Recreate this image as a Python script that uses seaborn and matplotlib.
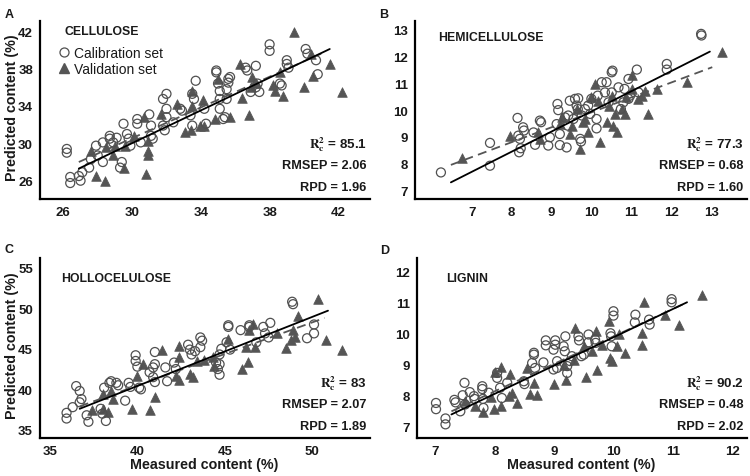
import numpy as np
import pandas as pd
import matplotlib
matplotlib.use("Agg")
import matplotlib.pyplot as plt
from matplotlib.lines import Line2D
import seaborn as sns

# ---- data ----
# A: cellulose
cal_a_x = [26.2, 26.2, 26.4, 26.4, 27.1, 27.0, 26.9, 27.5, 27.6, 27.9, 28.0, 28.3, 28.3, 28.7, 28.7, 28.9,
           29.1, 29.3, 29.4, 29.5, 29.7, 29.8, 29.9, 30.3, 30.3, 30.5, 31.0, 31.1, 31.2, 31.1, 31.8, 31.8,
           31.9, 32.0, 32.0, 32.0, 32.4, 32.8, 32.9, 33.5, 33.6, 33.7, 33.5, 33.4, 34.3, 34.2, 34.9, 34.9,
           35.1, 35.1, 35.0, 35.1, 35.3, 35.4, 35.5, 35.6, 35.7, 35.6, 35.5, 36.6, 36.7, 36.9, 37.2, 37.4,
           37.3, 37.2, 38.0, 38.0, 38.6, 38.7, 39.0, 39.0, 39.1, 40.1, 40.2, 40.7, 40.8]
cal_a_y = [29.4, 29.0, 26.4, 25.75, 26.9, 26.0, 26.5, 27.4, 28.3, 29.75, 28.7, 28.0, 30.1, 30.8, 30.5, 30.1,
           30.6, 27.4, 28.0, 32.1, 31.0, 30.5, 29.75, 32.6, 32.1, 30.1, 33.1, 31.9, 30.5, 30.8, 34.75, 31.9,
           31.4, 35.3, 33.7, 32.8, 32.25, 33.7, 33.5, 35.3, 34.75, 36.7, 31.9, 33.0, 32.1, 33.7, 37.8, 37.6,
           35.6, 34.75, 36.4, 33.7, 32.6, 32.8, 34.75, 36.9, 37.1, 36.5, 35.8, 38.1, 37.8, 35.5, 38.3, 35.5,
           36.4, 36.0, 40.6, 39.9, 36.4, 36.2, 38.9, 38.5, 38.1, 40.1, 39.6, 38.9, 37.4]
val_a_x = [27.6, 27.9, 28.4, 28.5, 28.9, 29.0, 29.5, 29.6, 30.1, 30.7, 30.8, 30.9, 30.9, 30.9, 31.7, 32.6,
           33.1, 33.4, 33.5, 33.5, 33.95, 34.1, 34.2, 34.8, 35.0, 35.7, 36.3, 36.4, 36.8, 36.9, 37.0, 37.2,
           38.2, 38.3, 38.6, 38.8, 39.4, 40.0, 40.4, 40.5, 41.5, 42.2]
val_a_y = [29.2, 26.5, 26.0, 29.6, 28.7, 29.75, 27.4, 29.75, 30.8, 32.8, 26.7, 28.7, 29.2, 30.3, 33.1, 34.2,
           31.2, 31.4, 34.0, 35.6, 31.9, 34.6, 31.9, 32.6, 36.9, 32.8, 38.5, 34.9, 33.0, 36.0, 37.1, 36.5,
           36.2, 35.6, 37.6, 35.1, 41.9, 36.0, 39.6, 37.25, 38.5, 35.5]
fit_a_x = [26.9, 41.5]
fit_a_y = [27.3, 40.1]
dash_a_x = [26.9, 41.0]
dash_a_y = [28.0, 39.6]

# B: hemicellulose
cal_b_x = [6.23, 7.46, 7.46, 8.15, 8.17, 8.21, 8.19, 8.23, 8.29, 8.31, 8.55, 8.59, 8.71, 8.74, 8.92, 8.96,
           9.13, 9.15, 9.17, 9.21, 9.21, 9.34, 9.38, 9.41, 9.42, 9.46, 9.55, 9.59, 9.63, 9.67, 9.66, 9.72,
           9.74, 9.76, 9.84, 9.92, 9.97, 10.0, 10.13, 10.13, 10.16, 10.26, 10.38, 10.34, 10.43, 10.51, 10.53,
           10.51, 10.68, 10.74, 10.8, 10.83, 10.93, 10.97, 10.93, 11.14, 11.18, 11.89, 11.89, 12.75, 12.76]
cal_b_y = [7.68, 8.78, 7.93, 9.71, 9.05, 8.93, 8.43, 8.58, 9.36, 9.24, 9.17, 8.71, 9.61, 9.55, 8.68, 8.99,
           9.48, 10.23, 10.0, 9.11, 8.70, 9.73, 8.61, 9.42, 9.80, 10.35, 9.67, 10.42, 10.17, 10.44, 10.04, 8.93,
           8.83, 9.80, 10.04, 10.17, 9.86, 10.42, 9.67, 9.32, 10.54, 11.04, 11.04, 10.66, 10.29, 11.41, 11.47,
           10.66, 10.85, 10.04, 10.29, 10.79, 11.16, 10.54, 10.42, 11.51, 10.66, 11.72, 11.51, 12.84, 12.78]
val_b_x = [6.77, 7.96, 8.67, 8.71, 9.21, 9.26, 9.46, 9.51, 9.63, 9.72, 9.80, 9.84, 9.92, 10.0, 10.09, 10.22,
           10.17, 10.38, 10.43, 10.51, 10.55, 10.63, 10.59, 10.76, 10.84, 10.88, 11.01, 11.01, 11.18, 11.26,
           11.34, 11.43, 11.64, 12.39, 13.27]
val_b_y = [8.2, 9.05, 9.17, 8.93, 9.48, 9.73, 9.11, 9.42, 10.04, 8.55, 9.55, 9.67, 9.17, 10.48, 10.98, 8.80,
           10.35, 9.55, 10.17, 10.54, 9.42, 9.17, 9.86, 10.04, 9.86, 10.48, 10.79, 11.29, 10.42, 10.54,
           10.73, 9.86, 10.79, 11.04, 12.16]
fit_b_x = [6.48, 12.97]
fit_b_y = [7.31, 12.18]
dash_b_x = [6.48, 13.03]
dash_b_y = [7.96, 11.6]

# C: holocellulose
cal_c_x = [35.95, 35.95, 36.3, 36.5, 36.7, 36.8, 36.7, 37.1, 37.2, 37.9, 38.0, 38.2, 38.1, 38.4, 38.5, 38.8,
           38.9, 39.3, 39.5, 39.6, 39.9, 39.9, 40.0, 40.1, 40.2, 40.7, 40.9, 41.0, 41.0, 41.0, 40.9, 41.6,
           41.7, 42.1, 42.2, 42.9, 43.0, 43.1, 43.3, 43.6, 43.7, 43.6, 44.5, 44.6, 44.7, 44.7, 44.7, 44.8,
           45.1, 45.2, 45.2, 45.3, 45.9, 46.4, 46.4, 46.8, 47.2, 47.3, 47.5, 47.6, 48.9, 48.85, 49.7, 50.1, 50.1]
cal_c_y = [36.4, 37.1, 37.8, 40.4, 39.8, 38.8, 38.4, 36.8, 36.0, 37.6, 37.0, 36.1, 40.2, 40.8, 41.0, 40.8,
           40.5, 38.6, 40.8, 40.3, 44.2, 43.5, 42.8, 40.2, 40.0, 42.1, 42.7, 44.6, 43.1, 40.9, 41.5, 42.7,
           41.0, 43.3, 42.5, 45.5, 44.9, 44.3, 44.7, 46.4, 46.0, 45.2, 43.3, 42.5, 41.8, 43.1, 44.3, 45.0,
           45.8, 47.9, 47.7, 44.9, 47.3, 47.7, 47.9, 45.8, 47.7, 46.9, 46.4, 48.2, 50.5, 50.8, 46.3, 46.9, 48.0]
val_c_x = [37.4, 38.05, 38.05, 38.3, 38.6, 38.5, 39.7, 40.0, 40.3, 40.7, 41.0, 41.4, 42.2, 42.4, 42.4, 42.4,
           43.0, 43.2, 43.8, 44.35, 43.4, 44.4, 45.2, 46.0, 46.3, 46.2, 46.7, 46.4, 46.6, 48.0, 48.5, 48.8,
           48.9, 49.0, 49.2, 50.3, 50.8, 51.7]
val_c_y = [37.4, 37.6, 39.4, 37.2, 38.8, 39.8, 37.6, 41.7, 43.1, 37.4, 39.1, 44.8, 41.7, 44.0, 41.1, 45.4,
           41.9, 41.5, 43.6, 44.0, 43.5, 42.9, 46.2, 42.5, 43.4, 45.2, 45.2, 47.3, 48.1, 47.0, 45.1, 46.1,
           47.3, 46.5, 49.1, 51.2, 46.1, 44.8]
fit_c_x = [36.7, 50.9]
fit_c_y = [37.6, 49.7]
dash_c_x = [36.7, 50.7]
dash_c_y = [37.9, 48.8]

# D: lignin
cal_d_x = [7.01, 7.01, 7.17, 7.17, 7.32, 7.34, 7.42, 7.46, 7.49, 7.5, 7.58, 7.65, 7.66, 7.79, 7.79, 7.8,
           7.81, 7.9, 8.04, 8.04, 8.09, 8.12, 8.21, 8.49, 8.5, 8.63, 8.66, 8.66, 8.68, 8.82, 8.86, 8.86,
           8.99, 9.02, 9.02, 9.05, 9.05, 8.99, 9.16, 9.19, 9.18, 9.22, 9.22, 9.27, 9.3, 9.41, 9.42, 9.46,
           9.5, 9.58, 9.58, 9.69, 9.7, 9.95, 9.96, 9.97, 10.0, 10.0, 10.37, 10.36, 10.6, 10.61, 10.98, 10.98]
cal_d_y = [7.75, 7.55, 7.25, 7.06, 7.85, 7.77, 7.48, 8.0, 8.4, 7.7, 8.1, 7.97, 7.88, 8.29, 8.2, 7.88,
           7.59, 8.08, 8.72, 8.56, 8.24, 7.91, 8.4, 8.45, 8.36, 9.04, 9.31, 9.37, 8.88, 9.06, 9.77, 9.61,
           9.47, 9.77, 9.63, 9.1, 8.88, 8.83, 9.58, 9.9, 9.42, 8.94, 8.72, 9.1, 9.26, 9.9, 9.77, 9.26,
           9.31, 9.96, 9.71, 9.8, 9.69, 10.0, 9.9, 9.58, 10.71, 10.57, 10.6, 10.35, 10.44, 10.28, 11.1, 11.0]
val_d_x = [7.5, 7.66, 7.81, 7.94, 7.98, 8.01, 8.11, 8.11, 8.24, 8.26, 8.29, 8.37, 8.54, 8.6, 8.66, 8.71,
           8.99, 9.16, 9.2, 9.33, 9.36, 9.5, 9.53, 9.64, 9.7, 9.72, 9.81, 9.92, 9.95, 9.97, 10.09, 10.06,
           10.2, 10.48, 10.48, 10.51, 10.86, 11.1, 11.49]
val_d_y = [7.8, 7.65, 7.45, 7.94, 7.54, 8.74, 8.9, 7.65, 7.97, 8.67, 8.08, 7.75, 8.88, 8.04, 8.4, 8.02,
           8.37, 8.99, 8.5, 9.15, 10.17, 9.58, 8.59, 9.42, 10.06, 8.83, 9.63, 10.39, 9.2, 9.1, 9.96, 9.58,
           9.37, 10.0, 9.63, 11.0, 10.6, 10.28, 11.25]
fit_d_x = [7.27, 11.24]
fit_d_y = [7.38, 11.0]
dash_d_x = [7.27, 11.2]
dash_d_y = [7.48, 10.96]

names = ["CELLULOSE", "HEMICELLULOSE", "HOLLOCELULOSE", "LIGNIN"]
letters = ["A", "B", "C", "D"]
r2_vals = ["85.1", "77.3", "83", "90.2"]
rmsep_vals = ["2.06", "0.68", "2.07", "0.48"]
rpd_vals = ["1.96", "1.60", "1.89", "2.02"]

# ---- style ----
sns.set_style("white")
plt.rcParams["font.family"] = ["Liberation Sans", "DejaVu Sans"]
plt.rcParams["mathtext.fontset"] = "stix"

grey = "#555555"
ink = "#1a1a1a"

fig = plt.figure(figsize=(7.5, 4.77), dpi=100)

# panel boxes (fig fraction) and axis ranges
boxes = [[0.0533, 0.5807, 0.44, 0.3732],
         [0.5533, 0.5807, 0.4427, 0.3732],
         [0.0533, 0.0797, 0.44, 0.3774],
         [0.556, 0.0797, 0.44, 0.3774]]
xlims = [(24.64, 43.84), (5.58, 13.9), (34.43, 53.3), (6.69, 12.25)]
ylims = [(24.04, 43.1), (6.69, 13.32), (34.0, 56.2), (6.62, 12.43)]
xticks = [[26, 30, 34, 38, 42], range(7, 14), [35, 40, 45, 50], range(7, 13)]
yticks = [[26, 30, 34, 38, 42], range(7, 14), [35, 40, 45, 50, 55], range(7, 13)]
title_pos = [(0.073, 0.944), (0.07, 0.91), (0.064, 0.89), (0.087, 0.887)]
letter_pos = [(0.006, 0.982), (0.506, 0.982), (0.006, 0.488), (0.507, 0.486)]

panels = [
    (cal_a_x, cal_a_y, val_a_x, val_a_y, fit_a_x, fit_a_y, dash_a_x, dash_a_y),
    (cal_b_x, cal_b_y, val_b_x, val_b_y, fit_b_x, fit_b_y, dash_b_x, dash_b_y),
    (cal_c_x, cal_c_y, val_c_x, val_c_y, fit_c_x, fit_c_y, dash_c_x, dash_c_y),
    (cal_d_x, cal_d_y, val_d_x, val_d_y, fit_d_x, fit_d_y, dash_d_x, dash_d_y),
]

for i, (cx, cy, vx, vy, fx, fy, dx, dy) in enumerate(panels):
    ax = fig.add_axes(boxes[i])
    cal = pd.DataFrame({"measured": cx, "predicted": cy})
    val = pd.DataFrame({"measured": vx, "predicted": vy})

    sns.scatterplot(data=val, x="measured", y="predicted", ax=ax, marker="^", s=48,
                    color=grey, edgecolor=grey, linewidth=0.5, zorder=2)
    sns.scatterplot(data=cal, x="measured", y="predicted", ax=ax, marker="o", s=42,
                    facecolor="none", edgecolor="#505050", linewidth=0.9, zorder=3)
    sns.lineplot(x=dx, y=dy, ax=ax, color=grey, lw=1.3, zorder=4)
    ax.lines[-1].set_dashes([5, 3])
    sns.lineplot(x=fx, y=fy, ax=ax, color="black", lw=1.3, zorder=5)

    ax.set_xlim(*xlims[i])
    ax.set_ylim(*ylims[i])
    ax.set_xticks(list(xticks[i]))
    ax.set_yticks(list(yticks[i]))
    for lab in ax.get_xticklabels() + ax.get_yticklabels():
        lab.set_fontweight("bold")
        lab.set_fontsize(9.5)
        lab.set_color(ink)
    ax.tick_params(length=3, width=1, color="black", pad=2)

    for s in ["top", "right"]:
        ax.spines[s].set_visible(False)
    for s in ["left", "bottom"]:
        ax.spines[s].set_linewidth(1.6)
        ax.spines[s].set_color("black")

    if i % 2 == 0:
        ax.set_ylabel("Predicted content (%)", fontsize=10.3, fontweight="bold", color=ink)
        ax.yaxis.set_label_coords(-0.064, 0.52)
    else:
        ax.set_ylabel("")
    if i >= 2:
        ax.set_xlabel("Measured content (%)", fontsize=10.3, fontweight="bold", color=ink)
        ax.xaxis.set_label_coords(0.497, -0.105)
    else:
        ax.set_xlabel("")

    ax.text(title_pos[i][0], title_pos[i][1], names[i], transform=ax.transAxes,
            fontsize=8.8, fontweight="bold", color=ink, va="center", ha="left")

    ax.text(0.99, 0.31, r"$\mathbf{R}_{\mathbf{c}}^{\mathbf{2}}$ = " + r2_vals[i], transform=ax.transAxes,
            fontsize=9.6, fontweight="bold", color=ink, ha="right", va="center")
    ax.text(0.99, 0.19, "RMSEP = " + rmsep_vals[i], transform=ax.transAxes,
            fontsize=9.2, fontweight="bold", color=ink, ha="right", va="center")
    ax.text(0.99, 0.067, "RPD = " + rpd_vals[i], transform=ax.transAxes,
            fontsize=9.2, fontweight="bold", color=ink, ha="right", va="center")

    if i == 0:
        handles = [Line2D([], [], marker="o", ls="", markersize=6.5, markerfacecolor="none",
                          markeredgecolor="#505050", markeredgewidth=0.9),
                   Line2D([], [], marker="^", ls="", markersize=7, color=grey)]
        ax.legend(handles, ["Calibration set", "Validation set"], loc="upper left",
                  bbox_to_anchor=(0.035, 0.89), frameon=False, fontsize=10,
                  handlelength=1.0, handletextpad=0.25, labelspacing=0.15, borderaxespad=0,
                  labelcolor=ink)

    fig.text(letter_pos[i][0], letter_pos[i][1], letters[i], fontsize=9, fontweight="bold",
             color=ink, va="top")

fig.savefig("out.png", dpi=100)
